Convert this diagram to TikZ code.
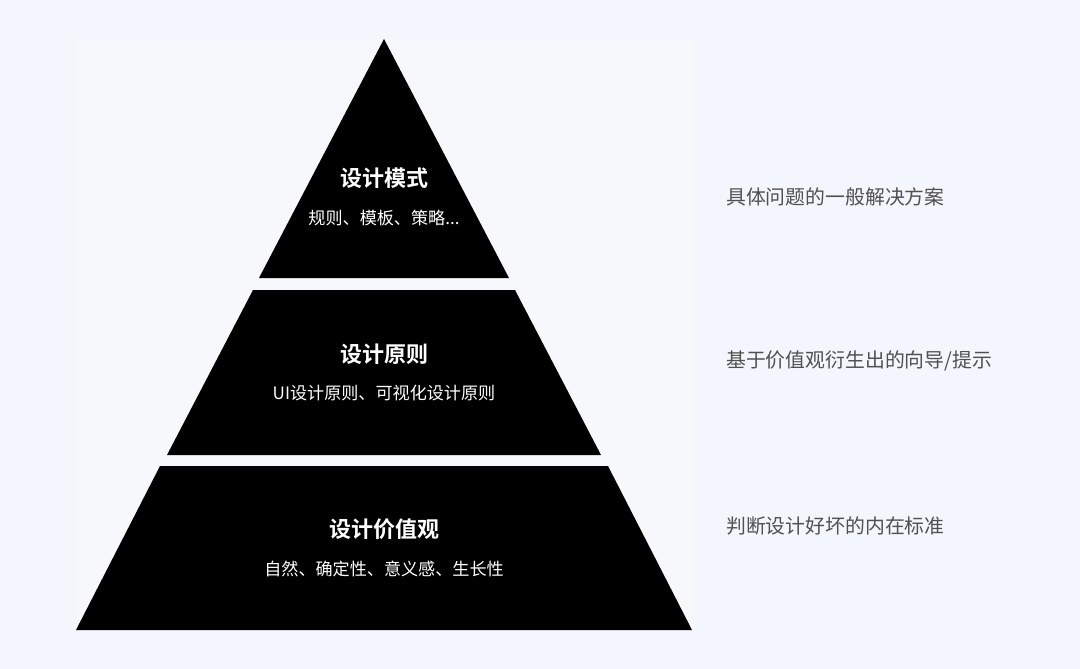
\documentclass[tikz,border=0pt]{standalone}
\usepackage{fontspec}
\newfontfamily\cjk{Noto Sans CJK SC}
\newfontfamily\cjkb{Noto Sans CJK SC Bold}
\definecolor{bgout}{HTML}{F4F6FD}
\definecolor{bgin}{HTML}{F7F8FC}
\definecolor{labelgray}{HTML}{505050}
\tikzset{
  layer/.style={fill=black, draw=none},
  ttl/.style={anchor=base, text=white, inner sep=0pt, font=\cjkb\fontsize{22}{26}\selectfont},
  sub/.style={anchor=base, text=white, inner sep=0pt, font=\cjk\fontsize{17.1}{20}\selectfont},
  side/.style={anchor=base west, text=labelgray, inner sep=0pt, font=\cjk\fontsize{19.85}{24}\selectfont}
}
\begin{document}
\begin{tikzpicture}[x=1pt,y=-1pt]
\useasboundingbox (0,0) rectangle (1080,669);
\fill[bgout] (0,0) rectangle (1080,669);
\fill[bgin] (76,39) rectangle (693,631);
% pyramid layers
\fill[layer] (384,39) -- (509,278) -- (259,278) -- cycle;
\fill[layer] (253,290) -- (515,290) -- (601,455) -- (167,455) -- cycle;
\fill[layer] (160,466) -- (608,466) -- (692,630) -- (76,630) -- cycle;
% texts
\node[ttl] (t1) at (384,186.4) {设计模式};
\node[sub] (s1) at (384,224.5) {规则、模板、策略...};
\node[ttl] (t2) at (384,362.4) {设计原则};
\node[sub] (s2) at (384,399.5) {UI设计原则、可视化设计原则};
\node[ttl] (t3) at (384,537.4) {设计价值观};
\node[sub] (s3) at (384,575) {自然、确定性、意义感、生长性};
\node[side] (r1) at (726,204) {具体问题的一般解决方案};
\node[side] (r2) at (726,367) {基于价值观衍生出的向导/提示};
\node[side] (r3) at (726,533) {判断设计好坏的内在标准};
\end{tikzpicture}
\end{document}
